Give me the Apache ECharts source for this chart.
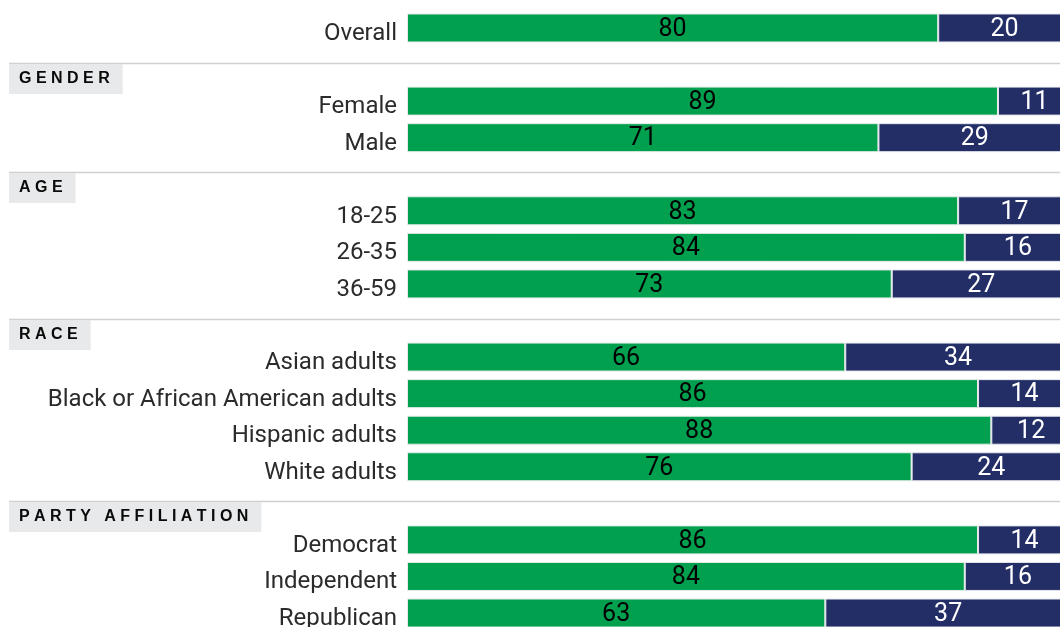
<!DOCTYPE html>
<html><head><meta charset="utf-8">
<script src="https://cdn.jsdelivr.net/npm/echarts@6/dist/echarts.min.js"></script>
<style>html,body{margin:0;padding:0;background:#fff}#c{width:1060px;height:627px}</style>
</head><body><div id="c"></div>
<script>
// Data
const groupNames = ['', 'GENDER', 'AGE', 'RACE', 'PARTY AFFILIATION'];
const groupCategories = [
  ['Overall'],
  ['Female', 'Male'],
  ['18-25', '26-35', '36-59'],
  ['Asian adults', 'Black or African American adults', 'Hispanic adults', 'White adults'],
  ['Democrat', 'Independent', 'Republican']
];
const greenValues = [
  [80],
  [89, 71],
  [83, 84, 73],
  [66, 86, 88, 76],
  [86, 84, 63]
];
const blueValues = [
  [20],
  [11, 29],
  [17, 16, 27],
  [34, 14, 12, 24],
  [14, 16, 37]
];

// Build slots (header rows take one slot each)
const slots = [], greenData = [], blueData = [], headers = [];
groupNames.forEach((g, gi) => {
  if (g) {
    headers.push([0, slots.length, g]);
    slots.push('__h' + gi);
    greenData.push(null); blueData.push(null);
  }
  groupCategories[gi].forEach((c, ci) => {
    slots.push(c);
    greenData.push(greenValues[gi][ci]);
    blueData.push(blueValues[gi][ci]);
  });
});

function spaced(t) { return t.split('').join(' '); }

const valueFont = 'Roboto';

const chart = echarts.init(document.getElementById('c'));
chart.setOption({
  animation: false,
  grid: { left: 407, width: 664, top: 9.7, height: 621.6, containLabel: false, outerBoundsMode: 'none' },
  xAxis: { type: 'value', min: 0, max: 100, show: false },
  yAxis: {
    type: 'category', data: slots, inverse: true,
    axisLine: { show: false }, axisTick: { show: false }, splitLine: { show: false },
    axisLabel: {
      margin: 10, fontSize: 24, color: '#2b2b2b', fontFamily: 'Roboto',
      verticalAlign: 'top', lineHeight: 12,
      formatter: v => v.startsWith('__h') ? '' : v
    }
  },
  series: [
    {
      type: 'bar', stack: 't', data: greenData, barWidth: 29,
      itemStyle: { color: '#00a04f', borderColor: '#e6ece8', borderWidth: 1 },
      label: { show: true, position: 'inside', offset: [0, 1.5], color: '#000', fontSize: 25, fontFamily: valueFont }
    },
    {
      type: 'bar', stack: 't', data: blueData, barWidth: 29,
      itemStyle: { color: '#232e66', borderColor: '#e6e8ee', borderWidth: 1 },
      label: { show: true, position: 'inside', offset: [0, 1.5], color: '#fff', fontSize: 25, fontFamily: valueFont }
    },
    {
      type: 'custom', data: headers, clip: false, z: 10,
      encode: { x: 0, y: 1 },
      renderItem: (params, api) => {
        const y = Math.round(api.coord([0, api.value(1)])[1]) - 1.5;
        const name = headers[params.dataIndex][2];
        return {
          type: 'group', children: [
            { type: 'line', shape: { x1: 9, y1: y, x2: api.getWidth(), y2: y },
              style: { stroke: '#d0d0d0', lineWidth: 1.5 } },
            { type: 'text', x: 9, y: y + 0.5,
              style: { text: spaced(name), font: 'bold 16px "Liberation Sans"', fill: '#0a0a0a',
                backgroundColor: '#e8e9ea', padding: [6, 13, 6, 10], verticalAlign: 'top', align: 'left', lineHeight: 18 } }
          ]
        };
      }
    }
  ]
});
</script></body></html>
